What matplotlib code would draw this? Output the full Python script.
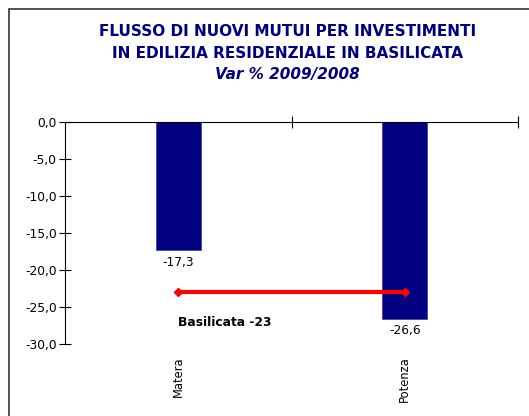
import numpy as np
import matplotlib
matplotlib.use("Agg")
import matplotlib.pyplot as plt
from matplotlib.patches import Rectangle

categories = ["Matera", "Potenza"]
values = [-17.3, -26.6]
regional_value = -23
regional_label = "Basilicata -23"
title_lines = ["FLUSSO DI NUOVI MUTUI PER INVESTIMENTI",
               "IN EDILIZIA RESIDENZIALE IN BASILICATA"]
subtitle = "Var % 2009/2008"

navy = "#000080"

fig = plt.figure(figsize=(5.29, 4.16), dpi=100)
fig.patch.set_facecolor("white")

# chart frame (cut off at right and bottom)
fig.add_artist(Rectangle((9 / 529, -0.1), 1.2, 1 - 9 / 416 + 0.1,
                         transform=fig.transFigure, fill=False,
                         edgecolor="#333333", lw=1.2))

ax = fig.add_axes([65 / 529, 1 - 344 / 416, (518 - 65) / 529, (344 - 122) / 416])
x = np.arange(len(categories))
ax.bar(x, values, width=0.2, color=navy, edgecolor="#3a3a9a", lw=0.5, zorder=2)

ax.set_xlim(-0.5, 1.5)
ax.set_ylim(-30, 0)
ax.set_yticks(np.arange(-30, 0.1, 5))
ax.set_yticklabels([f"{v:.1f}".replace(".", ",") for v in np.arange(-30, 0.1, 5)],
                   fontsize=8.8)
ax.tick_params(axis="y", direction="inout", length=8, width=0.8, pad=2)

for s in ["right", "bottom"]:
    ax.spines[s].set_visible(False)
ax.spines["left"].set_linewidth(0.8)
ax.spines["top"].set_linewidth(0.8)
ax.xaxis.set_ticks_position("top")
ax.set_xticks([0.5, 1.5])
ax.set_xticklabels([])
ax.tick_params(axis="x", direction="inout", length=8, width=0.8)

# value labels
for xi, v in zip(x, values):
    ax.annotate(f"{v:.1f}".replace(".", ","), (xi, v), xytext=(0, -4),
                textcoords="offset points", ha="center", va="top", fontsize=8.8)

# category labels below plot
for xi, c in zip(x, categories):
    ax.annotate(c, (xi, -30), xytext=(0, -9), textcoords="offset points",
                rotation=90, ha="center", va="top", fontsize=8.3)

# regional value line
ax.plot(x, [regional_value] * len(x), color="red", lw=3, marker="D",
        markersize=4, zorder=3)
ax.annotate(regional_label, (x[0], regional_value), xytext=(0, -17),
            textcoords="offset points", ha="left", va="top", fontsize=8.8,
            fontweight="bold")

fig.text(0.543, 1 - 32 / 416, title_lines[0], ha="center", va="center",
         fontsize=11, fontweight="bold", color=navy)
fig.text(0.543, 1 - 53 / 416, title_lines[1], ha="center", va="center",
         fontsize=11, fontweight="bold", color=navy)
fig.text(0.543, 1 - 74 / 416, subtitle, ha="center", va="center",
         fontsize=11, fontweight="bold", fontstyle="italic", color=navy)

fig.savefig("out.png", dpi=100)
